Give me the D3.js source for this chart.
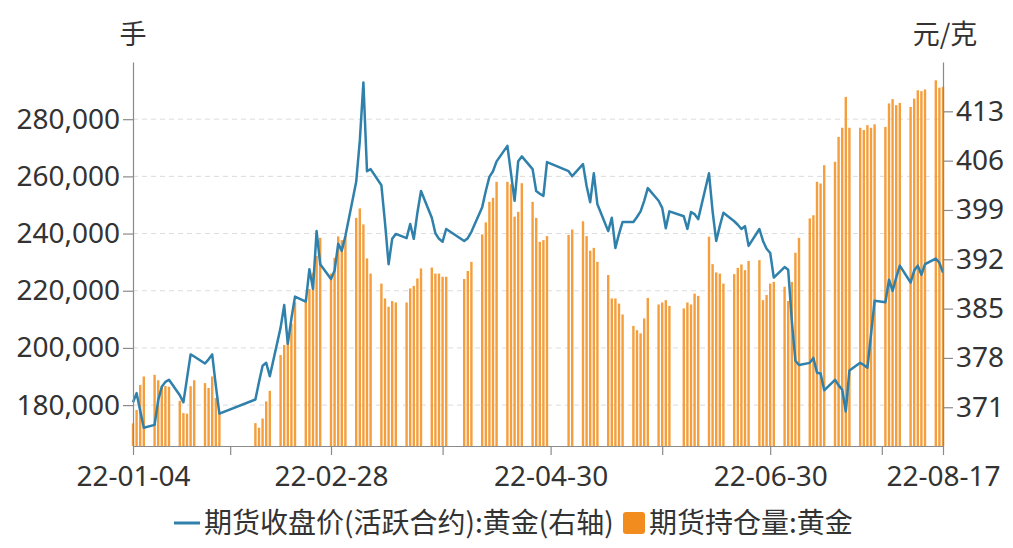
<!DOCTYPE html>
<html><head><meta charset="utf-8">
<script src="https://cdn.jsdelivr.net/npm/d3@7"></script>
<style>
html,body{margin:0;padding:0;background:#fff;}
svg{display:block;}
text{font-family:"Noto Sans","Noto Sans CJK SC",sans-serif;fill:#333;}
</style></head><body>
<svg id="chart" width="1013" height="548"></svg>
<script>
// ---------- data ----------
const dates = [
 "2022-01-04","2022-01-05","2022-01-06","2022-01-07",
 "2022-01-10","2022-01-11","2022-01-12","2022-01-13","2022-01-14",
 "2022-01-17","2022-01-18","2022-01-19","2022-01-20","2022-01-21",
 "2022-01-24","2022-01-25","2022-01-26","2022-01-27","2022-01-28",
 "2022-02-07","2022-02-08","2022-02-09","2022-02-10","2022-02-11",
 "2022-02-14","2022-02-15","2022-02-16","2022-02-17","2022-02-18",
 "2022-02-21","2022-02-22","2022-02-23","2022-02-24","2022-02-25",
 "2022-02-28","2022-03-01","2022-03-02","2022-03-03","2022-03-04",
 "2022-03-07","2022-03-08","2022-03-09","2022-03-10","2022-03-11",
 "2022-03-14","2022-03-15","2022-03-16","2022-03-17","2022-03-18",
 "2022-03-21","2022-03-22","2022-03-23","2022-03-24","2022-03-25",
 "2022-03-28","2022-03-29","2022-03-30","2022-03-31","2022-04-01",
 "2022-04-06","2022-04-07","2022-04-08",
 "2022-04-11","2022-04-12","2022-04-13","2022-04-14","2022-04-15",
 "2022-04-18","2022-04-19","2022-04-20","2022-04-21","2022-04-22",
 "2022-04-25","2022-04-26","2022-04-27","2022-04-28","2022-04-29",
 "2022-05-05","2022-05-06",
 "2022-05-09","2022-05-10","2022-05-11","2022-05-12","2022-05-13",
 "2022-05-16","2022-05-17","2022-05-18","2022-05-19","2022-05-20",
 "2022-05-23","2022-05-24","2022-05-25","2022-05-26","2022-05-27",
 "2022-05-30","2022-05-31","2022-06-01","2022-06-02",
 "2022-06-06","2022-06-07","2022-06-08","2022-06-09","2022-06-10",
 "2022-06-13","2022-06-14","2022-06-15","2022-06-16","2022-06-17",
 "2022-06-20","2022-06-21","2022-06-22","2022-06-23","2022-06-24",
 "2022-06-27","2022-06-28","2022-06-29","2022-06-30","2022-07-01",
 "2022-07-04","2022-07-05","2022-07-06","2022-07-07","2022-07-08",
 "2022-07-11","2022-07-12","2022-07-13","2022-07-14","2022-07-15",
 "2022-07-18","2022-07-19","2022-07-20","2022-07-21","2022-07-22",
 "2022-07-25","2022-07-26","2022-07-27","2022-07-28","2022-07-29",
 "2022-08-01","2022-08-02","2022-08-03","2022-08-04","2022-08-05",
 "2022-08-08","2022-08-09","2022-08-10","2022-08-11","2022-08-12",
 "2022-08-15","2022-08-16","2022-08-17"
];

// 期货持仓量:黄金 (手)
const openInterest = [
 173600,178300,187000,190000,
 190600,188700,186500,186700,186400,
 181500,177200,177000,186600,188700,
 187700,186000,190000,182500,177200,
 173700,172100,175300,181300,185000,
 197500,201000,204000,208500,216000,
 216600,220600,226300,232200,238500,
 226000,231500,239000,237700,239200,
 245500,248800,243200,231300,226000,
 222500,217300,214400,216400,215900,
 215900,220800,221700,224300,227800,
 228100,226000,226000,224900,224900,
 224100,226900,230100,
 239700,243900,251100,252500,258100,
 258100,257200,245900,247600,257600,
 251100,245500,237100,237700,239100,
 239500,241400,
 244300,239100,234000,235000,230100,
 225500,217300,217300,215500,211700,
 207700,206200,205100,210300,217500,
 215200,215900,216700,214700,
 213800,215900,215200,219000,218200,
 238900,229300,226400,226000,222500,
 225800,228000,229200,227200,230400,
 230700,216700,218500,222500,223100,
 221400,216400,223100,233300,238500,
 245300,246400,258100,257500,263900,
 265100,273800,277000,287800,277000,
 277000,276200,277900,277000,278200,
 277300,285500,287000,284900,285700,
 284300,287200,290100,289800,290400,
 293600,291000,291300
];

// 期货收盘价(活跃合约):黄金 (元/克, 右轴)
const closePrice = [
 371.7,373.0,370.5,368.1,
 368.5,372.0,373.9,374.6,374.9,
 372.7,371.7,375.1,378.5,378.2,
 377.2,377.8,378.5,374.1,370.1,
 372.1,374.6,376.9,377.3,375.4,
 382.3,385.5,380.0,383.6,386.7,
 386.0,390.6,387.8,396.0,391.3,
 389.2,390.4,394.2,393.2,395.3,
 403.0,408.8,417.1,404.5,404.8,
 402.5,397.2,391.3,394.9,395.6,
 395.0,397.0,394.9,398.6,401.7,
 397.9,395.7,394.9,394.5,396.3,
 394.6,395.0,395.9,
 399.4,401.7,403.7,404.5,405.9,
 408.1,404.2,400.3,405.9,406.6,
 404.8,401.7,401.3,401.0,405.8,
 404.5,403.8,
 405.5,402.4,400.1,404.2,399.8,
 396.0,397.9,393.6,395.6,397.3,
 397.3,398.0,398.8,400.3,402.1,
 400.3,399.3,396.4,398.8,
 398.1,396.3,398.7,398.4,397.7,
 404.2,398.8,394.6,396.7,398.6,
 397.4,396.9,396.3,396.7,393.9,
 396.3,394.6,393.5,392.9,389.4,
 390.9,390.5,383.3,377.6,377.0,
 377.3,378.0,375.9,375.8,373.4,
 374.9,374.1,373.5,370.4,376.2,
 377.3,377.0,376.6,381.3,386.1,
 385.9,389.1,387.5,389.4,391.1,
 388.7,390.4,391.1,389.8,391.3,
 392.1,391.5,390.1
];

const leftTicks = [180000, 200000, 220000, 240000, 260000, 280000];
const rightTicks = [371, 378, 385, 392, 399, 406, 413];
const xTickDates = ["2022-01-04","2022-01-31","2022-02-28","2022-03-31","2022-04-30","2022-05-31","2022-06-30","2022-07-31","2022-08-17"];
const xLabelDates = ["2022-01-04","2022-02-28","2022-04-30","2022-06-30","2022-08-17"];
const leftUnit = "手";
const rightUnit = "元/克";
const seriesNames = ["期货收盘价(活跃合约):黄金(右轴)", "期货持仓量:黄金"];

// ---------- chart ----------
const parse = d3.utcParse("%Y-%m-%d");
const fmtX = d3.utcFormat("%y-%m-%d");
const rows = dates.map((d, i) => ({date: parse(d), oi: openInterest[i], price: closePrice[i]}));

const L = 133, R = 943, T = 62, B = 446;
const svg = d3.select("#chart");

const x = d3.scaleUtc().domain([parse(dates[0]), parse(dates[dates.length - 1])]).range([L, R]);
const yL = d3.scaleLinear().domain([165700, 300000]).range([B, T]);
const yR = d3.scaleLinear().domain([365.5, 420]).range([B, T]);

const axisColor = "#8a8a8a";
const labelSize = 28;

// grid lines
svg.append("g").selectAll("line").data(leftTicks).join("line")
  .attr("x1", L).attr("x2", R)
  .attr("y1", d => yL(d)).attr("y2", d => yL(d))
  .attr("stroke", "#dcdcdc").attr("stroke-width", 1).attr("stroke-dasharray", "5,4");

// bars
const barW = 2.4;
svg.append("g").selectAll("rect").data(rows).join("rect")
  .attr("x", d => x(d.date) - barW / 2)
  .attr("width", barW)
  .attr("y", d => yL(d.oi))
  .attr("height", d => B - yL(d.oi))
  .attr("fill", "#F59E3E");

// price line
const line = d3.line().x(d => x(d.date)).y(d => yR(d.price));
svg.append("path").datum(rows)
  .attr("d", line)
  .attr("fill", "none")
  .attr("stroke", "#2F80AB")
  .attr("stroke-width", 2.5)
  .attr("stroke-linejoin", "round");

// axes
function styleAxis(g) {
  g.selectAll("path.domain").attr("stroke", axisColor).attr("stroke-width", 1.2);
  g.selectAll(".tick line").attr("stroke", axisColor).attr("stroke-width", 1.2);
  g.selectAll(".tick text").attr("fill", "#333").style("font-size", labelSize + "px")
    .style("font-family", '"Noto Sans", sans-serif');
}

const gL = svg.append("g").attr("transform", `translate(${L},0)`)
  .call(d3.axisLeft(yL).tickValues(leftTicks).tickFormat(d3.format(",")).tickSizeInner(10).tickSizeOuter(0).tickPadding(3));
styleAxis(gL);

const gR = svg.append("g").attr("transform", `translate(${R},0)`)
  .call(d3.axisRight(yR).tickValues(rightTicks).tickFormat(d3.format("d")).tickSizeInner(10).tickSizeOuter(0).tickPadding(3));
styleAxis(gR);

const labelSet = new Set(xLabelDates);
const gX = svg.append("g").attr("transform", `translate(0,${B})`)
  .call(d3.axisBottom(x).tickValues(xTickDates.map(parse))
    .tickFormat(d => labelSet.has(d3.utcFormat("%Y-%m-%d")(d)) ? fmtX(d) : "")
    .tickSizeInner(9).tickSizeOuter(0).tickPadding(6));
styleAxis(gX);
gX.selectAll(".tick text").attr("dy", "0.9em");

// units
svg.append("text").attr("x", L).attr("y", 44).attr("text-anchor", "middle")
  .style("font-size", "27px").style("font-family", '"Noto Sans CJK SC", sans-serif').text(leftUnit);
svg.append("text").attr("x", R + 2).attr("y", 44).attr("text-anchor", "middle")
  .style("font-size", "27px").style("font-family", '"Noto Sans CJK SC", sans-serif').text(rightUnit);

// legend
const lg = svg.append("g");
lg.append("line").attr("x1", 174).attr("x2", 200).attr("y1", 523).attr("y2", 523)
  .attr("stroke", "#2F80AB").attr("stroke-width", 3);
lg.append("text").attr("x", 204).attr("y", 533)
  .style("font-size", "28px").style("font-family", '"Noto Sans CJK SC", sans-serif').text(seriesNames[0]);
lg.append("rect").attr("x", 623).attr("y", 512).attr("width", 22).attr("height", 22).attr("rx", 3)
  .attr("fill", "#F28C1E");
lg.append("text").attr("x", 649).attr("y", 533)
  .style("font-size", "28px").style("font-family", '"Noto Sans CJK SC", sans-serif').text(seriesNames[1]);
</script>
</body></html>
